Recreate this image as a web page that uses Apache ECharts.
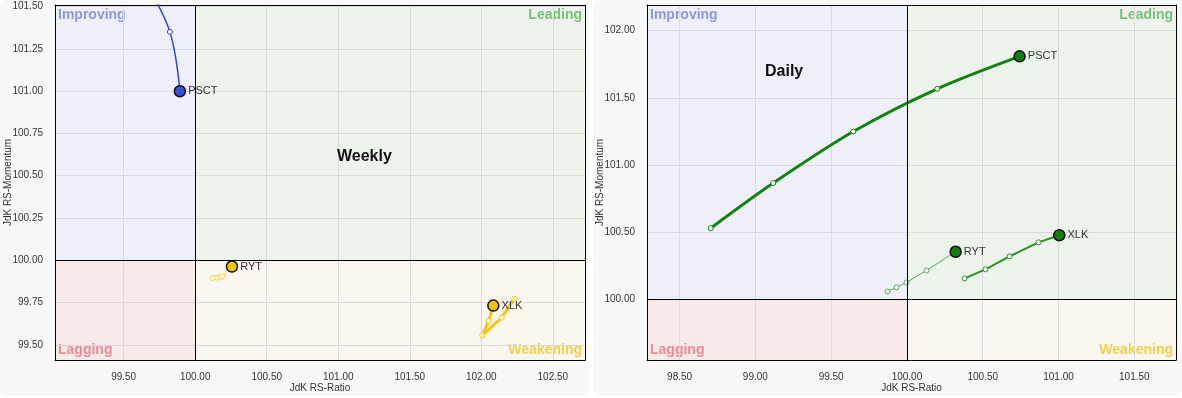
<!DOCTYPE html>
<html>
<head>
<meta charset="utf-8">
<script src="https://cdn.jsdelivr.net/npm/echarts@6/dist/echarts.min.js"></script>
<style>
  html, body { margin: 0; padding: 0; background: #fff; }
  .wrap { position: relative; width: 1182px; height: 398px; }
  .card { position: absolute; top: 0; height: 396px; width: 589px; background: #f7f8fa; border-radius: 6px; }
  #weekly { left: 0; }
  #daily { left: 593px; }
</style>
</head>
<body>
<div class="wrap">
  <div id="weekly" class="card"></div>
  <div id="daily" class="card"></div>
</div>
<script>
// weekly RRG - [RS-Ratio, RS-Momentum], tail first, head last
const weeklyPsct = [[99.66, 101.63], [99.823, 101.351], [99.893, 101.0]];
const weeklyRyt = [[100.12, 99.895], [100.15, 99.897], [100.175, 99.9], [100.19, 99.905], [100.257, 99.963]];
const weeklyXlk = [[102.231, 99.773], [102.143, 99.661], [102.007, 99.555], [102.052, 99.641], [102.084, 99.732]];
const weeklyRangeX = [99.02, 102.725];
const weeklyRangeY = [99.41, 101.51];

// daily RRG
const dailyPsct = [[98.705, 100.53], [99.118, 100.866], [99.646, 101.249], [100.2, 101.567], [100.743, 101.808]];
const dailyRyt = [[99.872, 100.06], [99.931, 100.09], [99.997, 100.127], [100.129, 100.216], [100.321, 100.355]];
const dailyXlk = [[100.38, 100.157], [100.518, 100.224], [100.677, 100.321], [100.868, 100.425], [101.005, 100.478]];
const dailyRangeX = [98.285, 101.775];
const dailyRangeY = [99.55, 102.19];

const CENTER = 100;
const FONT = 'Arial, "Liberation Sans", sans-serif';

function quadLabel(color, position) {
  return { show: true, position, distance: 3, color, fontSize: 14, fontWeight: 'bold', fontFamily: FONT };
}

function tailSeries(name, data, color, width, smooth) {
  return {
    name, type: 'line', data, z: 4, smooth,
    symbol: 'circle', symbolSize: 5,
    lineStyle: { color, width },
    itemStyle: { color: '#fff', borderColor: color, borderWidth: 1 }
  };
}

function headSeries(name, data, fill) {
  return {
    name, type: 'scatter', z: 5,
    data: [data[data.length - 1]],
    symbolSize: 11,
    itemStyle: { color: fill, borderColor: '#111', borderWidth: 1.5, opacity: 1 },
    label: { show: true, position: 'right', distance: 2, formatter: name, color: '#333', fontSize: 11, fontFamily: FONT }
  };
}

function buildOption(cfg) {
  const [x0, x1] = cfg.rangeX;
  const [y0, y1] = cfg.rangeY;
  const tickLabel = { formatter: v => v.toFixed(2), showMinLabel: false, showMaxLabel: false,
    color: '#333', fontSize: 10, fontFamily: FONT, margin: 12 };
  const valueAxis = (min, max, step, extra) => Object.assign({
    type: 'value', min, max, minInterval: step, maxInterval: step, z: 2,
    axisLine: { show: true, onZero: false, lineStyle: { color: '#000', width: 1 } },
    axisTick: { show: false },
    splitLine: { show: true, lineStyle: { color: '#d9d9d9', width: 1 } },
    axisLabel: tickLabel,
    nameLocation: 'middle',
    nameMoveOverlap: false,
    nameTextStyle: { fontSize: 10, color: '#333', fontFamily: FONT }
  }, extra);
  const frameAxis = (min, max, position) => ({
    type: 'value', min, max, position, z: 2,
    axisLine: { show: true, onZero: false, lineStyle: { color: '#000', width: 1 } },
    axisTick: { show: false }, axisLabel: { show: false }, splitLine: { show: false }
  });

  return {
    animation: false,
    title: {
      text: cfg.title, left: cfg.titlePos[0], top: cfg.titlePos[1],
      textStyle: { fontSize: 16, fontWeight: 'bold', color: '#111', fontFamily: FONT }
    },
    grid: Object.assign({ show: true, backgroundColor: '#fff', borderWidth: 0, containLabel: false, outerBoundsMode: 'none' }, cfg.grid),
    xAxis: [
      valueAxis(x0, x1, cfg.stepX, { name: 'JdK RS-Ratio', nameGap: 23 }),
      frameAxis(x0, x1, 'top')
    ],
    yAxis: [
      valueAxis(y0, y1, cfg.stepY, { name: 'JdK RS-Momentum', nameGap: cfg.nameGapY }),
      frameAxis(y0, y1, 'right')
    ],
    series: [
      {
        type: 'line', data: [[CENTER, CENTER]], z: 1, silent: true, showSymbol: false,
        lineStyle: { width: 0 },
        markArea: {
          silent: true,
          data: [
            [{ name: 'Improving', xAxis: x0, yAxis: CENTER, itemStyle: { color: '#eeeff8' }, label: quadLabel('#8d98df', 'insideTopLeft') }, { xAxis: CENTER, yAxis: y1 }],
            [{ name: 'Leading', xAxis: CENTER, yAxis: CENTER, itemStyle: { color: '#ecf3eb' }, label: quadLabel('#7cbf7c', 'insideTopRight') }, { xAxis: x1, yAxis: y1 }],
            [{ name: 'Lagging', xAxis: x0, yAxis: y0, itemStyle: { color: '#f9eaea' }, label: quadLabel('#ee8a98', 'insideBottomLeft') }, { xAxis: CENTER, yAxis: CENTER }],
            [{ name: 'Weakening', xAxis: CENTER, yAxis: y0, itemStyle: { color: '#f8f6ee' }, label: quadLabel('#f0d04c', 'insideBottomRight') }, { xAxis: x1, yAxis: CENTER }]
          ]
        }
      },
      {
        type: 'line', data: [[CENTER, CENTER]], z: 3, silent: true, showSymbol: false,
        lineStyle: { width: 0 },
        markLine: {
          silent: true, symbol: 'none', label: { show: false },
          lineStyle: { color: '#000', width: 1, type: 'solid' },
          data: [{ xAxis: CENTER }, { yAxis: CENTER }]
        }
      },
      ...cfg.series
    ]
  };
}

const weeklyChart = echarts.init(document.getElementById('weekly'));
weeklyChart.setOption(buildOption({
  title: 'Weekly', titlePos: [332, 144],
  rangeX: weeklyRangeX, rangeY: weeklyRangeY, stepX: 0.5, stepY: 0.25,
  grid: { left: 55, top: 5, right: 4, bottom: 36 }, nameGapY: 42,
  series: [
    tailSeries('PSCT', weeklyPsct, '#3344cc', 1.5, 0.4),
    tailSeries('RYT', weeklyRyt, '#f2d040', 1, false),
    tailSeries('XLK', weeklyXlk, '#f2c70f', 3, false),
    headSeries('PSCT', weeklyPsct, '#3a4fd8'),
    headSeries('RYT', weeklyRyt, '#f2c20c'),
    headSeries('XLK', weeklyXlk, '#f2c20c')
  ]
}));

const dailyChart = echarts.init(document.getElementById('daily'));
dailyChart.setOption(buildOption({
  title: 'Daily', titlePos: [167, 59],
  rangeX: dailyRangeX, rangeY: dailyRangeY, stepX: 0.5, stepY: 0.5,
  grid: { left: 54, top: 5, right: 6, bottom: 36 }, nameGapY: 42,
  series: [
    tailSeries('PSCT', dailyPsct, '#128312', 3, 0.3),
    tailSeries('RYT', dailyRyt, '#5aa85a', 1, false),
    tailSeries('XLK', dailyXlk, '#2a8d2a', 2, false),
    headSeries('PSCT', dailyPsct, '#0f7f0f'),
    headSeries('RYT', dailyRyt, '#0f7f0f'),
    headSeries('XLK', dailyXlk, '#0f7f0f')
  ]
}));
</script>
</body>
</html>
